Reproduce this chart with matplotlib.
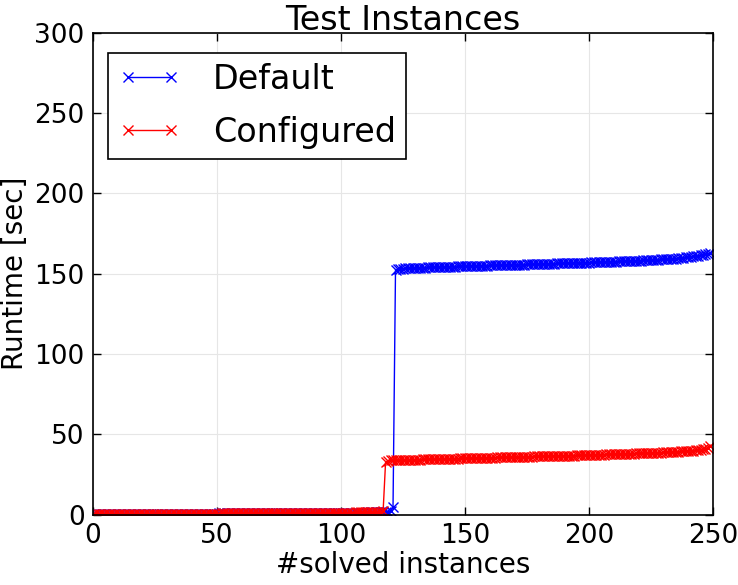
import numpy as np
import matplotlib.pyplot as plt

# sorted runtimes per solved instance
default_low = [
    0.4, 0.4, 0.4, 0.5, 0.5, 0.5, 0.5, 0.5, 0.5, 0.5,
    0.5, 0.5, 0.6, 0.6, 0.6, 0.6, 0.6, 0.6, 0.6, 0.6,
    0.6, 0.6, 0.6, 0.7, 0.7, 0.7, 0.7, 0.7, 0.7, 0.7,
    0.7, 0.7, 0.7, 0.7, 0.7, 0.7, 0.8, 0.8, 0.8, 0.8,
    0.8, 0.8, 0.8, 0.8, 0.8, 0.8, 0.8, 0.8, 0.8, 0.8,
    0.8, 0.9, 0.9, 0.9, 0.9, 0.9, 0.9, 0.9, 0.9, 0.9,
    0.9, 0.9, 0.9, 0.9, 0.9, 0.9, 0.9, 1.0, 1.0, 1.0,
    1.0, 1.0, 1.0, 1.0, 1.0, 1.0, 1.0, 1.0, 1.0, 1.0,
    1.0, 1.1, 1.1, 1.1, 1.1, 1.1, 1.1, 1.1, 1.1, 1.1,
    1.1, 1.1, 1.2, 1.2, 1.2, 1.2, 1.2, 1.2, 1.2, 1.2,
    1.3, 1.3, 1.3, 1.3, 1.3, 1.3, 1.4, 1.4, 1.4, 1.4,
    1.4, 1.5, 1.5, 1.5, 1.6, 1.6, 1.7, 1.7, 1.8, 1.9,
    2.1, 5.0,
]
default_high = [
    152.6, 152.9, 153.1, 153.2, 153.3, 153.4, 153.5, 153.6, 153.6, 153.7,
    153.8, 153.8, 153.9, 154.0, 154.0, 154.1, 154.1, 154.2, 154.2, 154.3,
    154.3, 154.4, 154.4, 154.5, 154.5, 154.6, 154.6, 154.7, 154.7, 154.8,
    154.8, 154.9, 154.9, 155.0, 155.0, 155.1, 155.1, 155.1, 155.2, 155.2,
    155.3, 155.3, 155.3, 155.4, 155.4, 155.5, 155.5, 155.5, 155.6, 155.6,
    155.7, 155.7, 155.7, 155.8, 155.8, 155.9, 155.9, 156.0, 156.0, 156.1,
    156.1, 156.2, 156.2, 156.3, 156.3, 156.4, 156.4, 156.5, 156.5, 156.6,
    156.6, 156.7, 156.7, 156.8, 156.8, 156.9, 156.9, 157.0, 157.0, 157.1,
    157.1, 157.2, 157.2, 157.3, 157.3, 157.4, 157.4, 157.5, 157.6, 157.6,
    157.7, 157.7, 157.8, 157.9, 157.9, 158.0, 158.0, 158.1, 158.2, 158.2,
    158.3, 158.4, 158.4, 158.5, 158.6, 158.7, 158.8, 158.9, 159.0, 159.1,
    159.2, 159.3, 159.4, 159.5, 159.7, 159.8, 160.0, 160.2, 160.4, 160.6,
    160.8, 161.0, 161.2, 161.4, 161.7, 162.0, 162.4, 163.0,
]

configured_low = [
    0.3, 0.3, 0.4, 0.4, 0.4, 0.4, 0.4, 0.5, 0.5, 0.5,
    0.5, 0.5, 0.5, 0.5, 0.5, 0.6, 0.6, 0.6, 0.6, 0.6,
    0.6, 0.6, 0.6, 0.6, 0.6, 0.7, 0.7, 0.7, 0.7, 0.7,
    0.7, 0.7, 0.7, 0.7, 0.7, 0.7, 0.7, 0.7, 0.8, 0.8,
    0.8, 0.8, 0.8, 0.8, 0.8, 0.8, 0.8, 0.8, 0.8, 0.8,
    0.8, 0.8, 0.9, 0.9, 0.9, 0.9, 0.9, 0.9, 0.9, 0.9,
    0.9, 0.9, 0.9, 0.9, 0.9, 0.9, 1.0, 1.0, 1.0, 1.0,
    1.0, 1.0, 1.0, 1.0, 1.0, 1.0, 1.0, 1.0, 1.0, 1.1,
    1.1, 1.1, 1.1, 1.1, 1.1, 1.1, 1.1, 1.1, 1.1, 1.2,
    1.2, 1.2, 1.2, 1.2, 1.2, 1.2, 1.2, 1.3, 1.3, 1.3,
    1.3, 1.3, 1.4, 1.4, 1.4, 1.4, 1.5, 1.5, 1.5, 1.6,
    1.6, 1.7, 1.7, 1.8, 1.8, 1.9, 2.0, 2.2,
]
configured_high = [
    33.0,
    33.6, 33.8, 33.9, 34.0, 34.0, 34.1, 34.1, 34.2, 34.2, 34.3,
    34.3, 34.3, 34.4, 34.4, 34.5, 34.5, 34.5, 34.6, 34.6, 34.7,
    34.7, 34.7, 34.8, 34.8, 34.9, 34.9, 34.9, 35.0, 35.0, 35.1,
    35.1, 35.1, 35.2, 35.2, 35.3, 35.3, 35.3, 35.4, 35.4, 35.5,
    35.5, 35.5, 35.6, 35.6, 35.7, 35.7, 35.7, 35.8, 35.8, 35.9,
    35.9, 35.9, 36.0, 36.0, 36.1, 36.1, 36.1, 36.2, 36.2, 36.3,
    36.3, 36.3, 36.4, 36.4, 36.5, 36.5, 36.5, 36.6, 36.6, 36.7,
    36.7, 36.7, 36.8, 36.8, 36.9, 36.9, 37.0, 37.0, 37.1, 37.1,
    37.2, 37.2, 37.3, 37.3, 37.4, 37.4, 37.5, 37.5, 37.6, 37.6,
    37.7, 37.7, 37.8, 37.8, 37.9, 37.9, 38.0, 38.0, 38.1, 38.1,
    38.2, 38.2, 38.3, 38.3, 38.4, 38.4, 38.5, 38.5, 38.6, 38.7,
    38.7, 38.8, 38.9, 39.0, 39.0, 39.1, 39.2, 39.3, 39.4, 39.5,
    39.6, 39.7, 39.9, 40.0, 40.2, 40.4, 40.6, 40.9, 41.2, 41.6,
    42.6,
]

default_rt = default_low + default_high
configured_rt = configured_low + configured_high

fig = plt.figure(figsize=(7.38, 5.85), dpi=100)
ax = fig.add_axes([0.126, 0.12, 0.84, 0.824])

ax.plot(np.arange(len(default_rt)), default_rt, color='blue', marker='x',
        markersize=6.5, markeredgewidth=1, linewidth=1, label='Default')
ax.plot(np.arange(len(configured_rt)), configured_rt, color='red', marker='x',
        markersize=6.5, markeredgewidth=1, linewidth=1, label='Configured')

ax.set_xlim(0, 250)
ax.set_ylim(0, 300)
ax.set_xticks(range(0, 251, 50))
ax.set_yticks(range(0, 301, 50))
ax.grid(True, color='#e6e6e6', linestyle='-', linewidth=0.8)
ax.set_axisbelow(True)
ax.tick_params(direction='in', top=True, right=True, labelsize=19,
               length=6, width=1, pad=6)
for s in ax.spines.values():
    s.set_linewidth(1.2)

ax.set_title('Test Instances', fontsize=24, pad=2)
ax.set_xlabel('#solved instances', fontsize=20, labelpad=1)
ax.set_ylabel('Runtime [sec]', fontsize=20, labelpad=4)

leg = ax.legend(loc='upper left', bbox_to_anchor=(0.0, 0.99), fontsize=24,
                numpoints=2, fancybox=False, handlelength=1.9,
                handletextpad=0.95, borderpad=0.3, labelspacing=0.6,
                borderaxespad=0.45, framealpha=1, edgecolor='black')
leg.get_frame().set_linewidth(1.2)

fig.savefig('out.png', dpi=100)
